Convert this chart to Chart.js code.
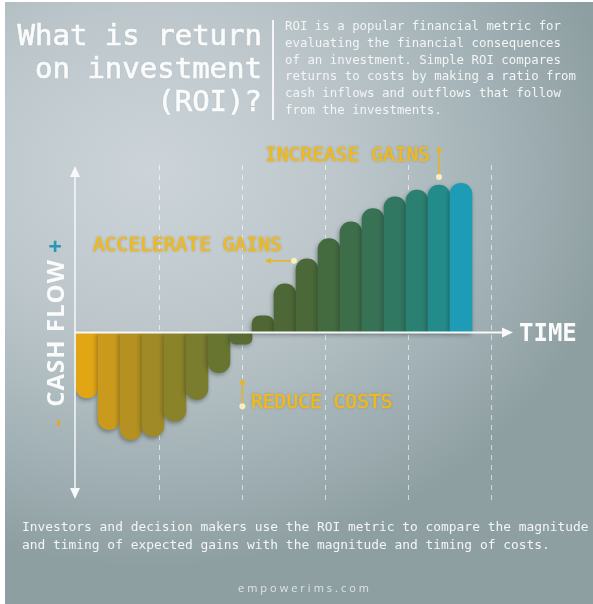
<!DOCTYPE html>
<html>
<head>
<meta charset="utf-8">
<script src="https://cdn.jsdelivr.net/npm/chart.js@4.4.0/dist/chart.umd.min.js"></script>
<style>
  html, body { margin: 0; padding: 0; background: #fff; width: 593px; height: 604px; overflow: hidden; }
  #card {
    position: absolute; left: 5px; top: 2px; width: 588px; height: 602px;
    background: radial-gradient(ellipse 80% 66% at 25% 28%, #ccd4d9 0%, #bdc7cb 40%, #a4b3b7 72%, #8e9fa2 100%);
  }
  #chart { position: absolute; left: 0; top: 0; }
  .t { position: absolute; white-space: pre; }
  .mono { font-family: "DejaVu Sans Mono", "Liberation Mono", monospace; }
  #title { right: 331px; top: 19px; font-size: 29px; line-height: 33px; text-align: right; color: #fafbfb;
           -webkit-text-stroke: 0.7px #fafbfb; text-shadow: 0 0 2px rgba(0,0,0,0.12); }
  #sep { position: absolute; left: 272px; top: 20px; width: 2px; height: 100px; background: #f4f6f7; }
  #intro { left: 285px; top: 18px; font-size: 12.4px; line-height: 16.8px; color: #f3f5f6; }
  .note { font-size: 19.6px; line-height: 20px; color: #f0b91d; -webkit-text-stroke: 0.6px #f0b91d;
          text-shadow: 0 0 3px rgba(60,50,0,0.3); }
  #cash { left: 54px; top: 333px; transform: translate(-50%, -50%) rotate(-90deg);
          font-family: "Open Sans", sans-serif; font-weight: bold; font-size: 24px; color: #fafbfb; letter-spacing: 1px; }
  #plus { left: 55px; top: 245px; transform: translate(-50%, -50%); font-family: "Open Sans", sans-serif;
          font-weight: bold; font-size: 24px; color: #2a97b3; }
  #minus { left: 55px; top: 423px; transform: translate(-50%, -50%) rotate(-90deg); font-family: "Open Sans", sans-serif;
           font-weight: bold; font-size: 22px; color: #e9a81c; }
  #time { left: 519px; top: 333px; transform: translateY(-50%); font-size: 24px; font-weight: bold; color: #fafbfb; }
  #outro { left: 22px; top: 518px; font-size: 12.9px; line-height: 18px; color: #f3f5f6; }
  #site { left: 305px; top: 587px; transform: translate(-50%, -50%); font-family: "Open Sans", sans-serif;
          font-size: 11px; letter-spacing: 3px; color: #dfe4e6; }
</style>
</head>
<body>
<div id="card"></div>
<canvas id="chart" width="593" height="604"></canvas>

<div class="t mono" id="title">What is return
on investment
(ROI)?</div>
<div id="sep"></div>
<div class="t mono" id="intro">ROI is a popular financial metric for
evaluating the financial consequences
of an investment. Simple ROI compares
returns to costs by making a ratio from
cash inflows and outflows that follow
from the investments.</div>

<div class="t mono note" style="left:265px;top:145px">INCREASE GAINS</div>
<div class="t mono note" style="left:93px;top:235px">ACCELERATE GAINS</div>
<div class="t mono note" style="left:251px;top:392px">REDUCE COSTS</div>

<div class="t" id="plus">+</div>
<div class="t" id="cash">CASH FLOW</div>
<div class="t" id="minus">-</div>
<div class="t mono" id="time">TIME</div>

<div class="t mono" id="outro">Investors and decision makers use the ROI metric to compare the magnitude
and timing of expected gains with the magnitude and timing of costs.</div>
<div class="t" id="site">empowerims.com</div>

<script>
// time periods (last two left empty so the time axis runs past the bars)
const periods = ['1','2','3','4','5','6','7','8','9','10','11','12','13','14','15','16','17','18','19','20'];
// cash flow per period
const cashFlow = [-39, -58, -64, -62, -53, -40, -24, -7, 10, 29, 44, 56, 66, 74, 81, 85, 88, 89];
const barColors = ['#e2a514','#c99a1c','#b49120','#a08a27','#8b832a','#7a7c2e','#687531','#5a6c33',
                   '#516733','#4e6736','#4a6838','#446b3f','#3d6e49','#377255','#307862','#2a8071','#238c8a','#1e9bb5'];
// dashed time guides
const timeMarks = [1, 2, 3, 4, 5];

const white = '#f7f9fa';
const gold = '#e9b422';

function head(c, x, y, dir, len, half) {
  c.beginPath();
  if (dir === 'up') { c.moveTo(x, y); c.lineTo(x - half, y + len); c.lineTo(x + half, y + len); }
  if (dir === 'down') { c.moveTo(x, y); c.lineTo(x - half, y - len); c.lineTo(x + half, y - len); }
  if (dir === 'right') { c.moveTo(x, y); c.lineTo(x - len, y - half); c.lineTo(x - len, y + half); }
  if (dir === 'left') { c.moveTo(x, y); c.lineTo(x + len, y - half); c.lineTo(x + len, y + half); }
  c.closePath();
  c.fill();
}

function dot(c, x, y) {
  c.fillStyle = '#f8efbf';
  c.beginPath(); c.arc(x, y, 3, 0, Math.PI * 2); c.fill();
}

const roiDecor = {
  id: 'roiDecor',
  beforeDatasetsDraw(chart) {
    const c = chart.ctx;
    c.save();
    c.shadowColor = 'rgba(25,35,35,0.4)';
    c.shadowBlur = 4;
    c.shadowOffsetX = -1;
    c.shadowOffsetY = 2;
  },
  afterDatasetsDraw(chart) {
    const c = chart.ctx;
    c.restore();
    const area = chart.chartArea;
    const xs = chart.scales.x, ys = chart.scales.y, gs = chart.scales.grid;
    const x0 = area.left - 1;
    const y0 = ys.getPixelForValue(0);

    c.save();
    c.strokeStyle = white; c.fillStyle = white;
    // cash flow axis, arrows both ways
    c.lineWidth = 1.5;
    c.beginPath(); c.moveTo(x0, area.top + 6); c.lineTo(x0, area.bottom - 6); c.stroke();
    head(c, x0, area.top + 1, 'up', 11, 5);
    head(c, x0, area.bottom - 1, 'down', 11, 5);
    // time axis
    c.lineWidth = 2;
    const xEnd = area.right - 3;
    c.beginPath(); c.moveTo(x0, y0); c.lineTo(xEnd - 6, y0); c.stroke();
    head(c, xEnd, y0, 'right', 11, 5);

    // annotation pointers
    c.strokeStyle = gold; c.fillStyle = gold; c.lineWidth = 1.5;
    // increase gains
    let ax = xs.getPixelForValue(16);
    let ay = ys.getPixelForValue(cashFlow[16]) - 8;
    c.beginPath(); c.moveTo(ax, ay); c.lineTo(ax, ay - 26); c.stroke();
    head(c, ax, ay - 31, 'up', 6, 3);
    dot(c, ax, ay);
    // accelerate gains
    c.fillStyle = gold;
    ax = xs.getPixelForValue(9) + 9;
    ay = ys.getPixelForValue(cashFlow[10]) + 2;
    c.beginPath(); c.moveTo(ax, ay); c.lineTo(ax - 24, ay); c.stroke();
    head(c, ax - 29, ay, 'left', 6, 3);
    dot(c, ax, ay);
    // reduce costs
    c.fillStyle = gold;
    ax = gs.getPixelForValue(2);
    ay = ys.getPixelForValue(-44);
    c.beginPath(); c.moveTo(ax, ay); c.lineTo(ax, ay - 23); c.stroke();
    head(c, ax, ay - 28, 'up', 6, 3);
    dot(c, ax, ay);
    c.restore();
  }
};

new Chart(document.getElementById('chart'), {
  type: 'bar',
  data: {
    labels: periods,
    datasets: [{
      data: cashFlow,
      backgroundColor: barColors,
      borderRadius: 11,
      borderSkipped: 'start',
      barPercentage: 1,
      categoryPercentage: 1
    }]
  },
  options: {
    responsive: false,
    animation: false,
    devicePixelRatio: 1,
    layout: { padding: { left: 76, right: 77, top: 165, bottom: 104 } },
    plugins: { legend: { display: false }, tooltip: { enabled: false } },
    scales: {
      x: { display: false },
      y: { display: false, min: -100, max: 100 },
      grid: {
        type: 'linear', position: 'bottom', min: 0, max: 5.29, offset: false,
        ticks: { display: false },
        afterBuildTicks: (scale) => { scale.ticks = timeMarks.map(v => ({ value: v })); },
        border: { display: false, dash: [5, 5] },
        grid: {
          offset: false, drawTicks: false, lineWidth: 1,
          color: 'rgba(255,255,255,0.6)'
        }
      }
    }
  },
  plugins: [roiDecor]
});
</script>
</body>
</html>
